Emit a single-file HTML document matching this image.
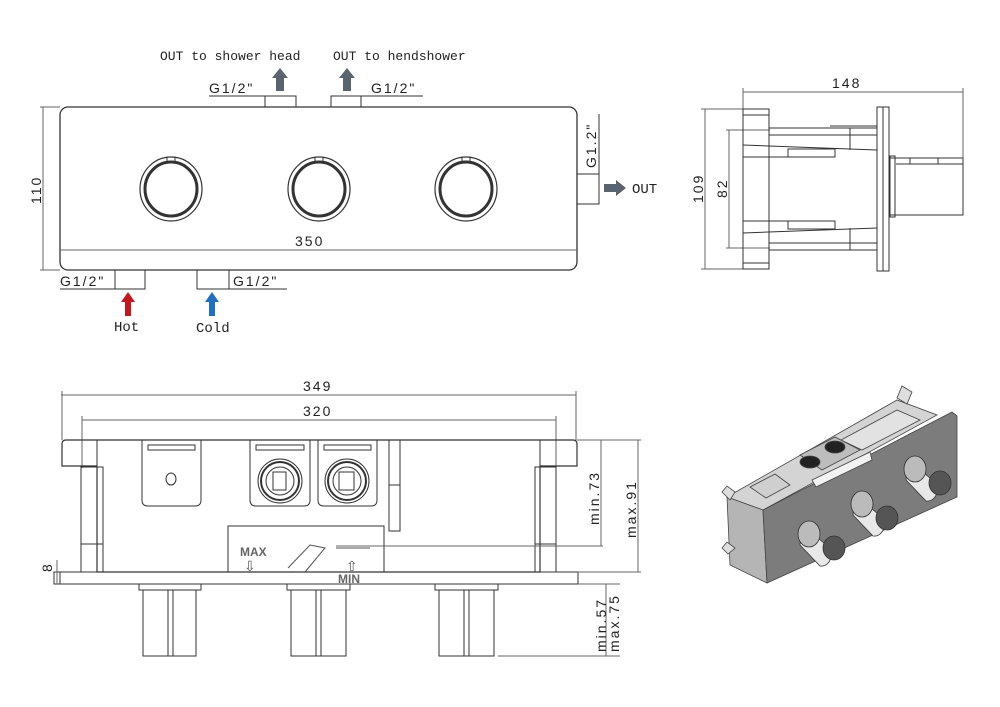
<!DOCTYPE html>
<html><head><meta charset="utf-8"><style>
html,body{margin:0;padding:0;background:#fff;}
svg{display:block;}
.d{font-family:"Liberation Sans",sans-serif;font-size:14px;letter-spacing:2px;fill:#222;}
.m{font-family:"Liberation Mono",monospace;font-size:13px;fill:#222;}
</style></head><body>
<svg width="1000" height="707" viewBox="0 0 1000 707" xmlns="http://www.w3.org/2000/svg">
<g fill="none" stroke="#333" stroke-width="1">
<!-- TOP VIEW -->
<rect x="60" y="107" width="517" height="163" rx="8" stroke-width="1.3"/>
<line x1="60" y1="250" x2="577" y2="250" stroke="#666"/>
<line x1="43" y1="107" x2="43" y2="270" stroke="#666"/>
<line x1="40" y1="107" x2="60" y2="107" stroke="#666"/>
<line x1="40" y1="270" x2="60" y2="270" stroke="#666"/>
<!-- knobs -->
<g id="k1"><ellipse cx="171" cy="189" rx="31" ry="32" stroke-width="1.2"/><ellipse cx="171" cy="189" rx="26" ry="27" stroke-width="3"/><rect x="167" y="157" width="8" height="5" stroke-width="1"/></g>
<ellipse cx="319" cy="189" rx="31" ry="32" stroke-width="1.2"/><ellipse cx="319" cy="189" rx="26" ry="27" stroke-width="3"/><rect x="315" y="157" width="8" height="5"/>
<ellipse cx="466" cy="189" rx="31" ry="32" stroke-width="1.2"/><ellipse cx="466" cy="189" rx="26" ry="27" stroke-width="3"/><rect x="462" y="157" width="8" height="5"/>
<!-- top ports -->
<polyline points="209,96 296,96 296,107"/><line x1="265" y1="96" x2="265" y2="107"/>
<polyline points="423,96 331,96 331,107"/><line x1="361" y1="96" x2="361" y2="107"/>
<!-- right port -->
<polyline points="577,174 599,174 599,204 577,204"/><line x1="599" y1="114" x2="599" y2="174"/>
<!-- bottom ports -->
<polyline points="60,289 145,289 145,270"/><line x1="115" y1="270" x2="115" y2="289"/>
<polyline points="287,289 197,289 197,270"/><line x1="229" y1="270" x2="229" y2="289"/>

<!-- SIDE VIEW -->
<line x1="743" y1="92" x2="963" y2="92" stroke="#666"/>
<line x1="743" y1="88" x2="743" y2="110" stroke="#666"/>
<line x1="963" y1="88" x2="963" y2="214" stroke="#666"/>
<line x1="705" y1="109" x2="705" y2="269" stroke="#666"/>
<line x1="701" y1="109" x2="743" y2="109" stroke="#666"/>
<line x1="701" y1="269" x2="743" y2="269" stroke="#666"/>
<line x1="729" y1="130" x2="729" y2="248" stroke="#666"/>
<line x1="726" y1="130" x2="770" y2="130" stroke="#666"/>
<line x1="726" y1="248" x2="770" y2="248" stroke="#666"/>
<rect x="743" y="109" width="26" height="160"/>
<line x1="743" y1="115" x2="769" y2="115"/><line x1="743" y1="263" x2="769" y2="263"/>
<rect x="877" y="107" width="12" height="164"/><line x1="883" y1="107" x2="883" y2="271"/>
<rect x="890" y="158" width="73" height="57"/><rect x="890" y="156" width="5" height="61"/>
<line x1="896" y1="164" x2="963" y2="164"/><line x1="910" y1="158" x2="910" y2="164"/><line x1="938" y1="158" x2="938" y2="164"/>
<!-- arms -->
<polyline points="769,128 877,128"/><polyline points="769,135 877,135"/>
<polyline points="743,145 877,150"/><polyline points="743,157 835,157 835,150"/>
<rect x="788" y="149" width="47" height="8"/><line x1="850" y1="128" x2="850" y2="150"/>
<line x1="830" y1="126" x2="877" y2="126"/>
<polyline points="769,250 877,250"/><polyline points="769,243 877,243"/>
<polyline points="743,233 877,228"/><polyline points="743,221 835,221 835,228"/>
<rect x="788" y="221" width="47" height="8"/><line x1="850" y1="228" x2="850" y2="250"/>

<!-- FRONT/BOTTOM VIEW -->
<line x1="61" y1="395" x2="576" y2="395" stroke="#666"/>
<line x1="62" y1="391" x2="62" y2="440" stroke="#666"/><line x1="576" y1="391" x2="576" y2="440" stroke="#666"/>
<line x1="82" y1="420" x2="556" y2="420" stroke="#666"/>
<line x1="82" y1="416" x2="82" y2="468" stroke="#666"/><line x1="556" y1="416" x2="556" y2="468" stroke="#666"/>
<path d="M62,444 Q62,440 66,440 L573,440 Q577,440 577,444 L577,466 L540,466 L540,572 L97,572 L97,466 L62,466 Z" stroke-width="1.2"/>
<line x1="97" y1="440" x2="97" y2="466"/><line x1="540" y1="440" x2="540" y2="466"/>
<path d="M81,467 L103,467 L103,572 L81,572 Z"/><line x1="81" y1="544" x2="103" y2="544"/>
<path d="M535,467 L556,467 L556,572 L535,572 Z"/><line x1="535" y1="544" x2="556" y2="544"/>
<path d="M142,440 L142,500 Q142,506 148,506 L195,506 Q201,506 201,500 L201,440"/><rect x="148" y="445" width="47" height="5"/>
<ellipse cx="171" cy="479" rx="5" ry="6"/>
<path d="M250,440 L250,500 Q250,506 256,506 L304,506 Q310,506 310,500 L310,440"/><rect x="256" y="445" width="48" height="5"/>
<path d="M318,440 L318,500 Q318,506 324,506 L371,506 Q377,506 377,500 L377,440"/><rect x="324" y="445" width="47" height="5"/>
<circle cx="280" cy="481" r="22"/><circle cx="280" cy="481" r="19" stroke-width="2"/><circle cx="280" cy="481" r="14"/><rect x="273" y="472" width="13" height="18"/>
<circle cx="347" cy="481" r="22"/><circle cx="347" cy="481" r="19" stroke-width="2"/><circle cx="347" cy="481" r="14"/><rect x="339" y="472" width="15" height="18"/>
<rect x="389" y="440" width="11" height="91"/><line x1="389" y1="485" x2="400" y2="485"/>
<rect x="228" y="526" width="156" height="46"/>
<line x1="336" y1="546" x2="603" y2="546" stroke="#666"/>
<path d="M288,568 L310,545 L325,548 L305,572" stroke="#555"/>
<rect x="54" y="572" width="524" height="12"/><line x1="60" y1="572" x2="60" y2="584"/>
<!-- cylinders -->
<rect x="139" y="584" width="62" height="6"/><rect x="143" y="590" width="53" height="66"/><rect x="168" y="590" width="5" height="66"/>
<rect x="287" y="584" width="63" height="6"/><rect x="291" y="590" width="55" height="66"/><rect x="316" y="590" width="5" height="66"/>
<rect x="435" y="584" width="63" height="6"/><rect x="439" y="590" width="55" height="66"/><rect x="464" y="590" width="5" height="66"/>
<!-- dims -->
<line x1="577" y1="440" x2="641" y2="440" stroke="#666"/>
<line x1="601" y1="440" x2="601" y2="546" stroke="#666"/>
<line x1="638" y1="440" x2="638" y2="572" stroke="#666"/>
<line x1="578" y1="572" x2="641" y2="572" stroke="#666"/>
<line x1="578" y1="584" x2="620" y2="584" stroke="#666"/>
<line x1="606" y1="584" x2="606" y2="656" stroke="#666"/>
<line x1="498" y1="656" x2="620" y2="656" stroke="#666"/>
<line x1="57" y1="560" x2="57" y2="584" stroke="#666"/>
</g>

<!-- arrows -->
<g fill="#5a6470">
<path d="M276,91 L276,78 L272,78 L280,68 L288,78 L284,78 L284,91 Z"/>
<path d="M343,91 L343,78 L339,78 L347,68 L355,78 L351,78 L351,91 Z"/>
<path d="M604,184 L616,184 L616,180 L626,188 L616,196 L616,192 L604,192 Z"/>
</g>
<path d="M125,316 L125,302 L121,302 L128,292 L135,302 L131,302 L131,316 Z" fill="#c4161c"/>
<path d="M209,316 L209,302 L205,302 L212,292 L219,302 L215,302 L215,316 Z" fill="#1f6fc5"/>

<!-- text -->
<text class="m" x="160" y="60">OUT to shower head</text>
<text class="m" x="333" y="60">OUT to hendshower</text>
<text class="d" x="209" y="93">G1/2"</text>
<text class="d" x="371" y="93">G1/2"</text>
<text class="d" x="60" y="286">G1/2"</text>
<text class="d" x="233" y="286">G1/2"</text>
<text class="d" x="295" y="246">350</text>
<text class="d" transform="translate(41,204) rotate(-90)">110</text>
<text class="d" transform="translate(596,168) rotate(-90)">G1.2"</text>
<text class="m" x="632" y="193" style="font-size:14px">OUT</text>
<text class="m" x="114" y="331" style="font-size:14px">Hot</text>
<text class="m" x="196" y="332" style="font-size:14px">Cold</text>
<text class="d" x="832" y="88">148</text>
<text class="d" transform="translate(703,203) rotate(-90)">109</text>
<text class="d" transform="translate(727,198) rotate(-90)">82</text>
<text class="d" x="303" y="391">349</text>
<text class="d" x="303" y="416">320</text>
<text class="d" transform="translate(599,525) rotate(-90)">min.73</text>
<text class="d" transform="translate(636,538) rotate(-90)">max.91</text>
<text class="d" transform="translate(606,652) rotate(-90)">min.57</text>
<text class="d" transform="translate(619,652) rotate(-90)">max.75</text>
<text class="d" transform="translate(52,572) rotate(-90)">8</text>
<text x="240" y="556" style="font-family:'Liberation Sans',sans-serif;font-size:12px;font-weight:bold;fill:#666">MAX</text>
<text x="244" y="571" style="font-family:'Liberation Sans',sans-serif;font-size:14px;fill:#555">⇩</text>
<text x="346" y="571" style="font-family:'Liberation Sans',sans-serif;font-size:14px;fill:#555">⇧</text>
<text x="338" y="583" style="font-family:'Liberation Sans',sans-serif;font-size:12px;font-weight:bold;fill:#666">MIN</text>
<line x1="336" y1="548" x2="370" y2="548" stroke="#555"/>
<rect x="0" y="573" width="1000" height="0" fill="none"/>

<!-- ISOMETRIC -->
<g stroke="#444" stroke-width="0.8">
<polygon points="727,497 897,400 937,415 763,510" fill="#d4d4d4"/>
<polygon points="727,497 763,510 767,583 730,565" fill="#b5b5b5"/>
<polygon points="763,510 952,412 957,416 957,497 767,583" fill="#7c7c7c"/>
<polygon points="841,440 897,410 920,420 862,450" fill="#e2e2e2"/>
<polygon points="800,455 835,437 860,450 822,470" fill="#bdbdbd"/>
<ellipse cx="810" cy="462" rx="10" ry="6" fill="#222"/>
<ellipse cx="835" cy="447" rx="10" ry="6" fill="#222"/>
<polygon points="812,480 870,452 872,460 816,487" fill="#f2f2f2"/>
<polygon points="750,487 775,474 790,485 766,498" fill="#cfcfcf"/>
<polygon points="897,398 902,386 912,392 907,404" fill="#ddd"/>
<polygon points="722,492 727,486 735,492 730,500" fill="#ddd"/>
<polygon points="722,548 727,542 735,548 728,554" fill="#ddd"/>
</g>
<g stroke="#333" stroke-width="0.8">
<path d="M802,525 L830,548 A10,12 0 0 1 820,566 L800,545 Z" fill="#e8e8e8"/>
<ellipse cx="809" cy="534" rx="11" ry="13" fill="#bbb"/>
<ellipse cx="834" cy="548" rx="11" ry="12" fill="#555"/>
<path d="M855,495 L883,518 A10,12 0 0 1 873,536 L853,515 Z" fill="#e8e8e8"/>
<ellipse cx="862" cy="504" rx="11" ry="13" fill="#bbb"/>
<ellipse cx="887" cy="518" rx="11" ry="12" fill="#555"/>
<path d="M908,460 L936,483 A10,12 0 0 1 926,501 L906,480 Z" fill="#e8e8e8"/>
<ellipse cx="915" cy="469" rx="11" ry="13" fill="#bbb"/>
<ellipse cx="940" cy="483" rx="11" ry="12" fill="#555"/>
</g>
</svg>
</body></html>
